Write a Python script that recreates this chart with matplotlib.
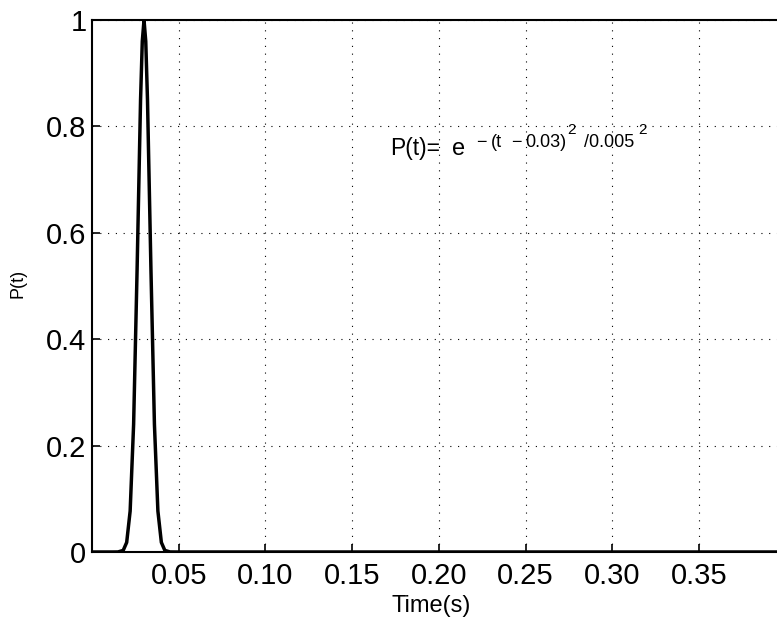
#!/usr/bin/env python3
"""Gaussian pulse P(t) vs time, MATLAB-style axes."""
import matplotlib

matplotlib.use("Agg")
import matplotlib.pyplot as plt

# values
t_vals = [0.0, 0.012, 0.015, 0.018, 0.020, 0.022, 0.024, 0.026, 0.028, 0.029,
          0.030, 0.031, 0.032, 0.034, 0.036, 0.038, 0.040, 0.042, 0.045, 0.048, 0.40]
p_vals = [0.0, 0.0, 0.0001, 0.003, 0.018, 0.077, 0.24, 0.53, 0.85, 0.96,
          1.0, 0.96, 0.85, 0.53, 0.24, 0.077, 0.018, 0.003, 0.0001, 0.0, 0.0]

x_ticks = [0.05, 0.10, 0.15, 0.20, 0.25, 0.30, 0.35]
x_labels = ["0.05", "0.10", "0.15", "0.20", "0.25", "0.30", "0.35"]
y_ticks = [0, 0.2, 0.4, 0.6, 0.8, 1.0]
y_labels = ["0", "0.2", "0.4", "0.6", "0.8", "1"]

# formula pieces: (text, left px, baseline px, fontsize)
formula = [
    ("P(t)=", 390, 155, 16.5),
    ("e", 452, 155, 17),
    ("\u2212", 476, 147, 13),
    ("(t", 491, 147, 13),
    ("\u2212", 511, 147, 13),
    ("0.03)", 525, 147, 13),
    ("2", 567, 134, 11),
    ("/0.005", 584, 147, 13),
    ("2", 638, 134, 11),
]

plt.rcParams["font.family"] = ["Liberation Sans", "DejaVu Sans"]

W, H = 777, 620
AX_L, AX_B, AX_W, AX_H = 92, 68, 693.6, 532
fig = plt.figure(figsize=(W / 100, H / 100), dpi=100)
ax = fig.add_axes([AX_L / W, AX_B / H, AX_W / W, AX_H / H])

ax.plot(t_vals, p_vals, color="black", linewidth=2.5, solid_joinstyle="round")

ax.set_xlim(0, 0.4)
ax.set_ylim(0, 1)
ax.set_xticks(x_ticks)
ax.set_xticklabels(x_labels)
ax.set_yticks(y_ticks)
ax.set_yticklabels(y_labels)
ax.tick_params(direction="in", length=6, width=1.2, labelsize=21, colors="black")
ax.tick_params(axis="x", pad=7)
ax.tick_params(axis="y", pad=4)
ax.grid(True, color="black", linestyle=(0, (1, 6)), linewidth=0.8)

for side in ["top", "bottom", "left"]:
    ax.spines[side].set_linewidth(1.5)
ax.spines["right"].set_visible(False)

ax.set_xlabel("Time(s)", fontsize=17)
ax.xaxis.set_label_coords((431 - AX_L) / AX_W, -(612 - (H - AX_B)) / AX_H)
ax.xaxis.label.set_va("baseline")
ax.set_ylabel("P(t)", fontsize=13)
ax.yaxis.set_label_coords(-(AX_L - 18) / AX_W, (H - AX_B - 283) / AX_H)
ax.yaxis.label.set_va("center")

for txt, px, py, fs in formula:
    ax.text((px - AX_L) / AX_W, (H - AX_B - py) / AX_H, txt, fontsize=fs,
            ha="left", va="baseline", transform=ax.transAxes)

fig.savefig("out.png", dpi=100)
